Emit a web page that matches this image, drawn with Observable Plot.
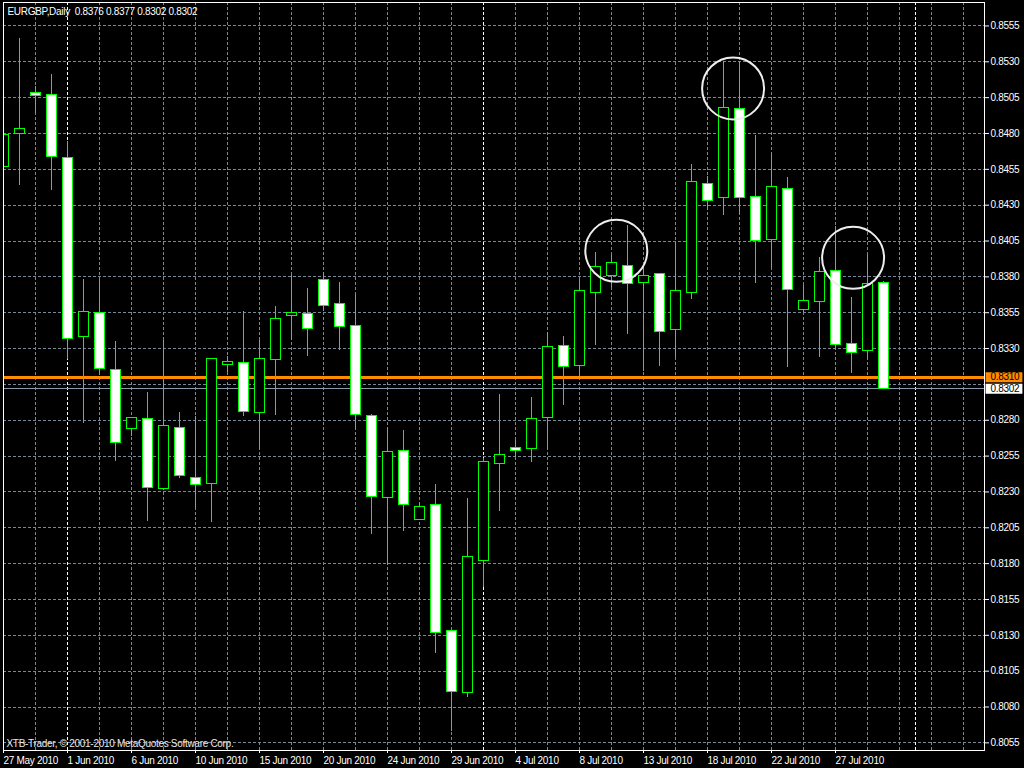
<!DOCTYPE html>
<html>
<head>
<meta charset="utf-8">
<script src="https://cdn.jsdelivr.net/npm/d3@7"></script>
<script src="https://cdn.jsdelivr.net/npm/@observablehq/plot@0.6"></script>
<style>
  html, body { margin: 0; padding: 0; background: #000; overflow: hidden; }
  #chart svg { display: block; }
</style>
</head>
<body>
<div id="chart"></div>
<script>
// ---- data ----
const symbol = "EURGBP";
const period = "Daily";
const dates = [
  "2010-05-27","2010-05-28","2010-05-30","2010-05-31","2010-06-01","2010-06-02","2010-06-03","2010-06-04",
  "2010-06-06","2010-06-07","2010-06-08","2010-06-09","2010-06-10","2010-06-11","2010-06-13","2010-06-14",
  "2010-06-15","2010-06-16","2010-06-17","2010-06-18","2010-06-20","2010-06-21","2010-06-22","2010-06-23",
  "2010-06-24","2010-06-25","2010-06-27","2010-06-28","2010-06-29","2010-06-30","2010-07-01","2010-07-02",
  "2010-07-04","2010-07-05","2010-07-06","2010-07-07","2010-07-08","2010-07-09","2010-07-11","2010-07-12",
  "2010-07-13","2010-07-14","2010-07-15","2010-07-16","2010-07-18","2010-07-19","2010-07-20","2010-07-21",
  "2010-07-22","2010-07-23","2010-07-25","2010-07-26","2010-07-27","2010-07-28","2010-07-29","2010-07-30"
];
const open = [
  0.84565,0.84798,0.85084,0.85070,0.84630,0.83380,0.83549,0.83152,
  0.82740,0.82810,0.82320,0.82747,0.82398,0.82356,0.83186,0.83200,
  0.82851,0.83221,0.83528,0.83542,0.83779,0.83612,0.83458,0.82830,
  0.82256,0.82586,0.82105,0.82210,0.81331,0.80899,0.81817,0.82493,
  0.82607,0.82598,0.82814,0.83319,0.83177,0.83686,0.83805,0.83877,
  0.83759,0.83819,0.83431,0.83689,0.84447,0.84351,0.84972,0.84358,
  0.84059,0.84416,0.83572,0.83628,0.83844,0.83335,0.83286,0.83760
];
const high = [
  0.85093,0.85463,0.85128,0.85212,0.84747,0.83782,0.83787,0.83350,
  0.82820,0.82994,0.83356,0.82851,0.82826,0.83228,0.83244,0.83558,
  0.83356,0.83593,0.83809,0.83719,0.83833,0.83760,0.83670,0.82840,
  0.82742,0.82728,0.82217,0.82352,0.81331,0.82252,0.82530,0.82979,
  0.82659,0.82958,0.83409,0.83384,0.83788,0.83967,0.83949,0.84159,
  0.83868,0.83826,0.84038,0.84584,0.84500,0.85300,0.85300,0.84786,
  0.84663,0.84491,0.83740,0.83937,0.84154,0.83658,0.83949,0.83770
];
const low = [
  0.84193,0.84440,0.84942,0.84403,0.83224,0.82780,0.83129,0.82515,
  0.82687,0.82096,0.82310,0.82391,0.82184,0.82089,0.83135,0.82828,
  0.82598,0.82835,0.83356,0.83247,0.83560,0.83286,0.82733,0.82000,
  0.81789,0.82024,0.82100,0.81175,0.80631,0.80869,0.81636,0.82166,
  0.82542,0.82507,0.82596,0.82903,0.83105,0.83323,0.83728,0.83400,
  0.83143,0.83178,0.83236,0.83640,0.84265,0.84231,0.84235,0.83752,
  0.83856,0.83166,0.83549,0.83235,0.83293,0.83124,0.83224,0.83020
];
const close = [
  0.84791,0.84833,0.85063,0.84635,0.83368,0.83556,0.83159,0.82643,
  0.82817,0.82329,0.82761,0.82412,0.82349,0.83228,0.83207,0.82858,
  0.83228,0.83507,0.83549,0.83435,0.83598,0.83449,0.82835,0.82263,
  0.82580,0.82208,0.82196,0.81317,0.80906,0.81847,0.82510,0.82559,
  0.82586,0.82810,0.83312,0.83170,0.83702,0.83870,0.83898,0.83752,
  0.83808,0.83417,0.83703,0.84463,0.84331,0.84979,0.84351,0.84052,
  0.84428,0.83705,0.83635,0.83837,0.83324,0.83272,0.83747,0.83020
];
const tickDates = ["2010-05-27","2010-06-01","2010-06-06","2010-06-10","2010-06-15","2010-06-20","2010-06-24",
  "2010-06-29","2010-07-04","2010-07-08","2010-07-13","2010-07-18","2010-07-22","2010-07-27"];
const tickLabels = ["27 May 2010","1 Jun 2010","6 Jun 2010","10 Jun 2010","15 Jun 2010","20 Jun 2010","24 Jun 2010",
  "29 Jun 2010","4 Jul 2010","8 Jul 2010","13 Jul 2010","18 Jul 2010","22 Jul 2010","27 Jul 2010"];
const gridPrices = [0.8555,0.8530,0.8505,0.8480,0.8455,0.8430,0.8405,0.8380,0.8355,0.8330,0.8305,
  0.8280,0.8255,0.8230,0.8205,0.8180,0.8155,0.8130,0.8105,0.8080,0.8055];
const priceTicks = [0.8555,0.8530,0.8505,0.8480,0.8455,0.8430,0.8405,0.8380,0.8355,0.8330,
  0.8280,0.8255,0.8230,0.8205,0.8180,0.8155,0.8130,0.8105,0.8080,0.8055];
const levelPrice = [0.8310, 0.8302];
const levelLabel = ["0.8310", "0.8302"];
const separatorIdx = [4, 30, 57];
const circleIdx = [38.3, 45.6, 53.1];
const circlePrice = [0.83982, 0.85114, 0.83933];
const footer = "XTB-Trader, \u00a9 2001-2010 MetaQuotes Software Corp.";

// ---- derived tables ----
const candles = dates.map((d, i) => ({i, date: d, open: open[i], high: high[i], low: low[i], close: close[i]}));
const tickIdx = tickDates.map(d => dates.indexOf(d));
const gridIdx = d3.range(2, 62, 2);
const circles = circleIdx.map((x, k) => ({x, y: circlePrice[k]}));
const last = candles[candles.length - 1];
const header = `${symbol},${period}\u00a0\u00a0${[last.open, last.high, last.low, last.close].map(v => v.toFixed(4)).join(" ")}`;

const xMax = 61.3125;
const GRID = "#778899";
const GREEN = "#00ff00";
const HALF = 0.3125;

const chart = Plot.plot({
  width: 1024,
  height: 768,
  marginLeft: 3,
  marginTop: 2,
  marginRight: 40,
  marginBottom: 18,
  x: {type: "linear", domain: [0, xMax]},
  y: {type: "linear", domain: [0.804967, 0.857136]},
  style: {background: "#000", color: "#fff", fontFamily: "'Liberation Sans', Arial, sans-serif", fontSize: "10px", letterSpacing: "-0.3px"},
  marks: [
    Plot.ruleY(gridPrices, {stroke: GRID, strokeDasharray: "3,2", shapeRendering: "crispEdges"}),
    Plot.ruleX(gridIdx, {stroke: GRID, strokeDasharray: "3,2", shapeRendering: "crispEdges"}),
    Plot.ruleX(separatorIdx, {stroke: "#ffffff", strokeDasharray: "3,2", shapeRendering: "crispEdges"}),
    Plot.text([footer], {frameAnchor: "bottom-left", dx: 3, dy: -7, textAnchor: "start", lineAnchor: "middle", fill: "#e8e8e8"}),
    Plot.ruleY([levelPrice[1]], {stroke: "#8a9aaa", strokeWidth: 1, shapeRendering: "crispEdges"}),
    Plot.ruleY([levelPrice[0]], {stroke: "#ff8c00", strokeWidth: 3, shapeRendering: "crispEdges"}),
    Plot.ruleX(candles, {x: "i", y1: "low", y2: "high", stroke: GREEN, clip: true, shapeRendering: "crispEdges"}),
    Plot.rect(candles, {
      x1: d => d.i - HALF, x2: d => d.i + HALF,
      y1: "open", y2: "close",
      fill: d => d.close < d.open ? "#ffffff" : "#000000",
      stroke: GREEN, clip: true, shapeRendering: "crispEdges"
    }),
    Plot.dot(circles, {x: "x", y: "y", r: 31, stroke: "#eeeeee", strokeWidth: 2, fill: "none"}),
    Plot.frame({stroke: "#ffffff", shapeRendering: "crispEdges"}),
    Plot.axisY(priceTicks, {anchor: "right", tickFormat: d => d.toFixed(4), tickSize: 4, tickPadding: 2, stroke: "#fff", fill: "#fff", label: null}),
    Plot.axisX(tickIdx, {anchor: "bottom", tickFormat: i => tickLabels[tickIdx.indexOf(i)], textAnchor: "start", tickSize: 3, tickPadding: 3, stroke: "#fff", fill: "#fff", label: null}),
    Plot.ruleY([levelPrice[0]], {x1: () => xMax + 0.1, x2: () => xMax + 2.4, stroke: "#ff8c00", strokeWidth: 10}),
    Plot.ruleY([levelPrice[1]], {x1: () => xMax + 0.1, x2: () => xMax + 2.4, stroke: "#ffffff", strokeWidth: 10}),
    Plot.text(levelPrice, {y: d => d, text: (d, k) => levelLabel[k], frameAnchor: "right", dx: 6, textAnchor: "start", fill: "#000"}),
    Plot.text([header], {frameAnchor: "top-left", dx: 4, dy: 9, textAnchor: "start", lineAnchor: "middle", fill: "#ffffff"})
  ]
});
document.getElementById("chart").append(chart);
</script>
</body>
</html>
